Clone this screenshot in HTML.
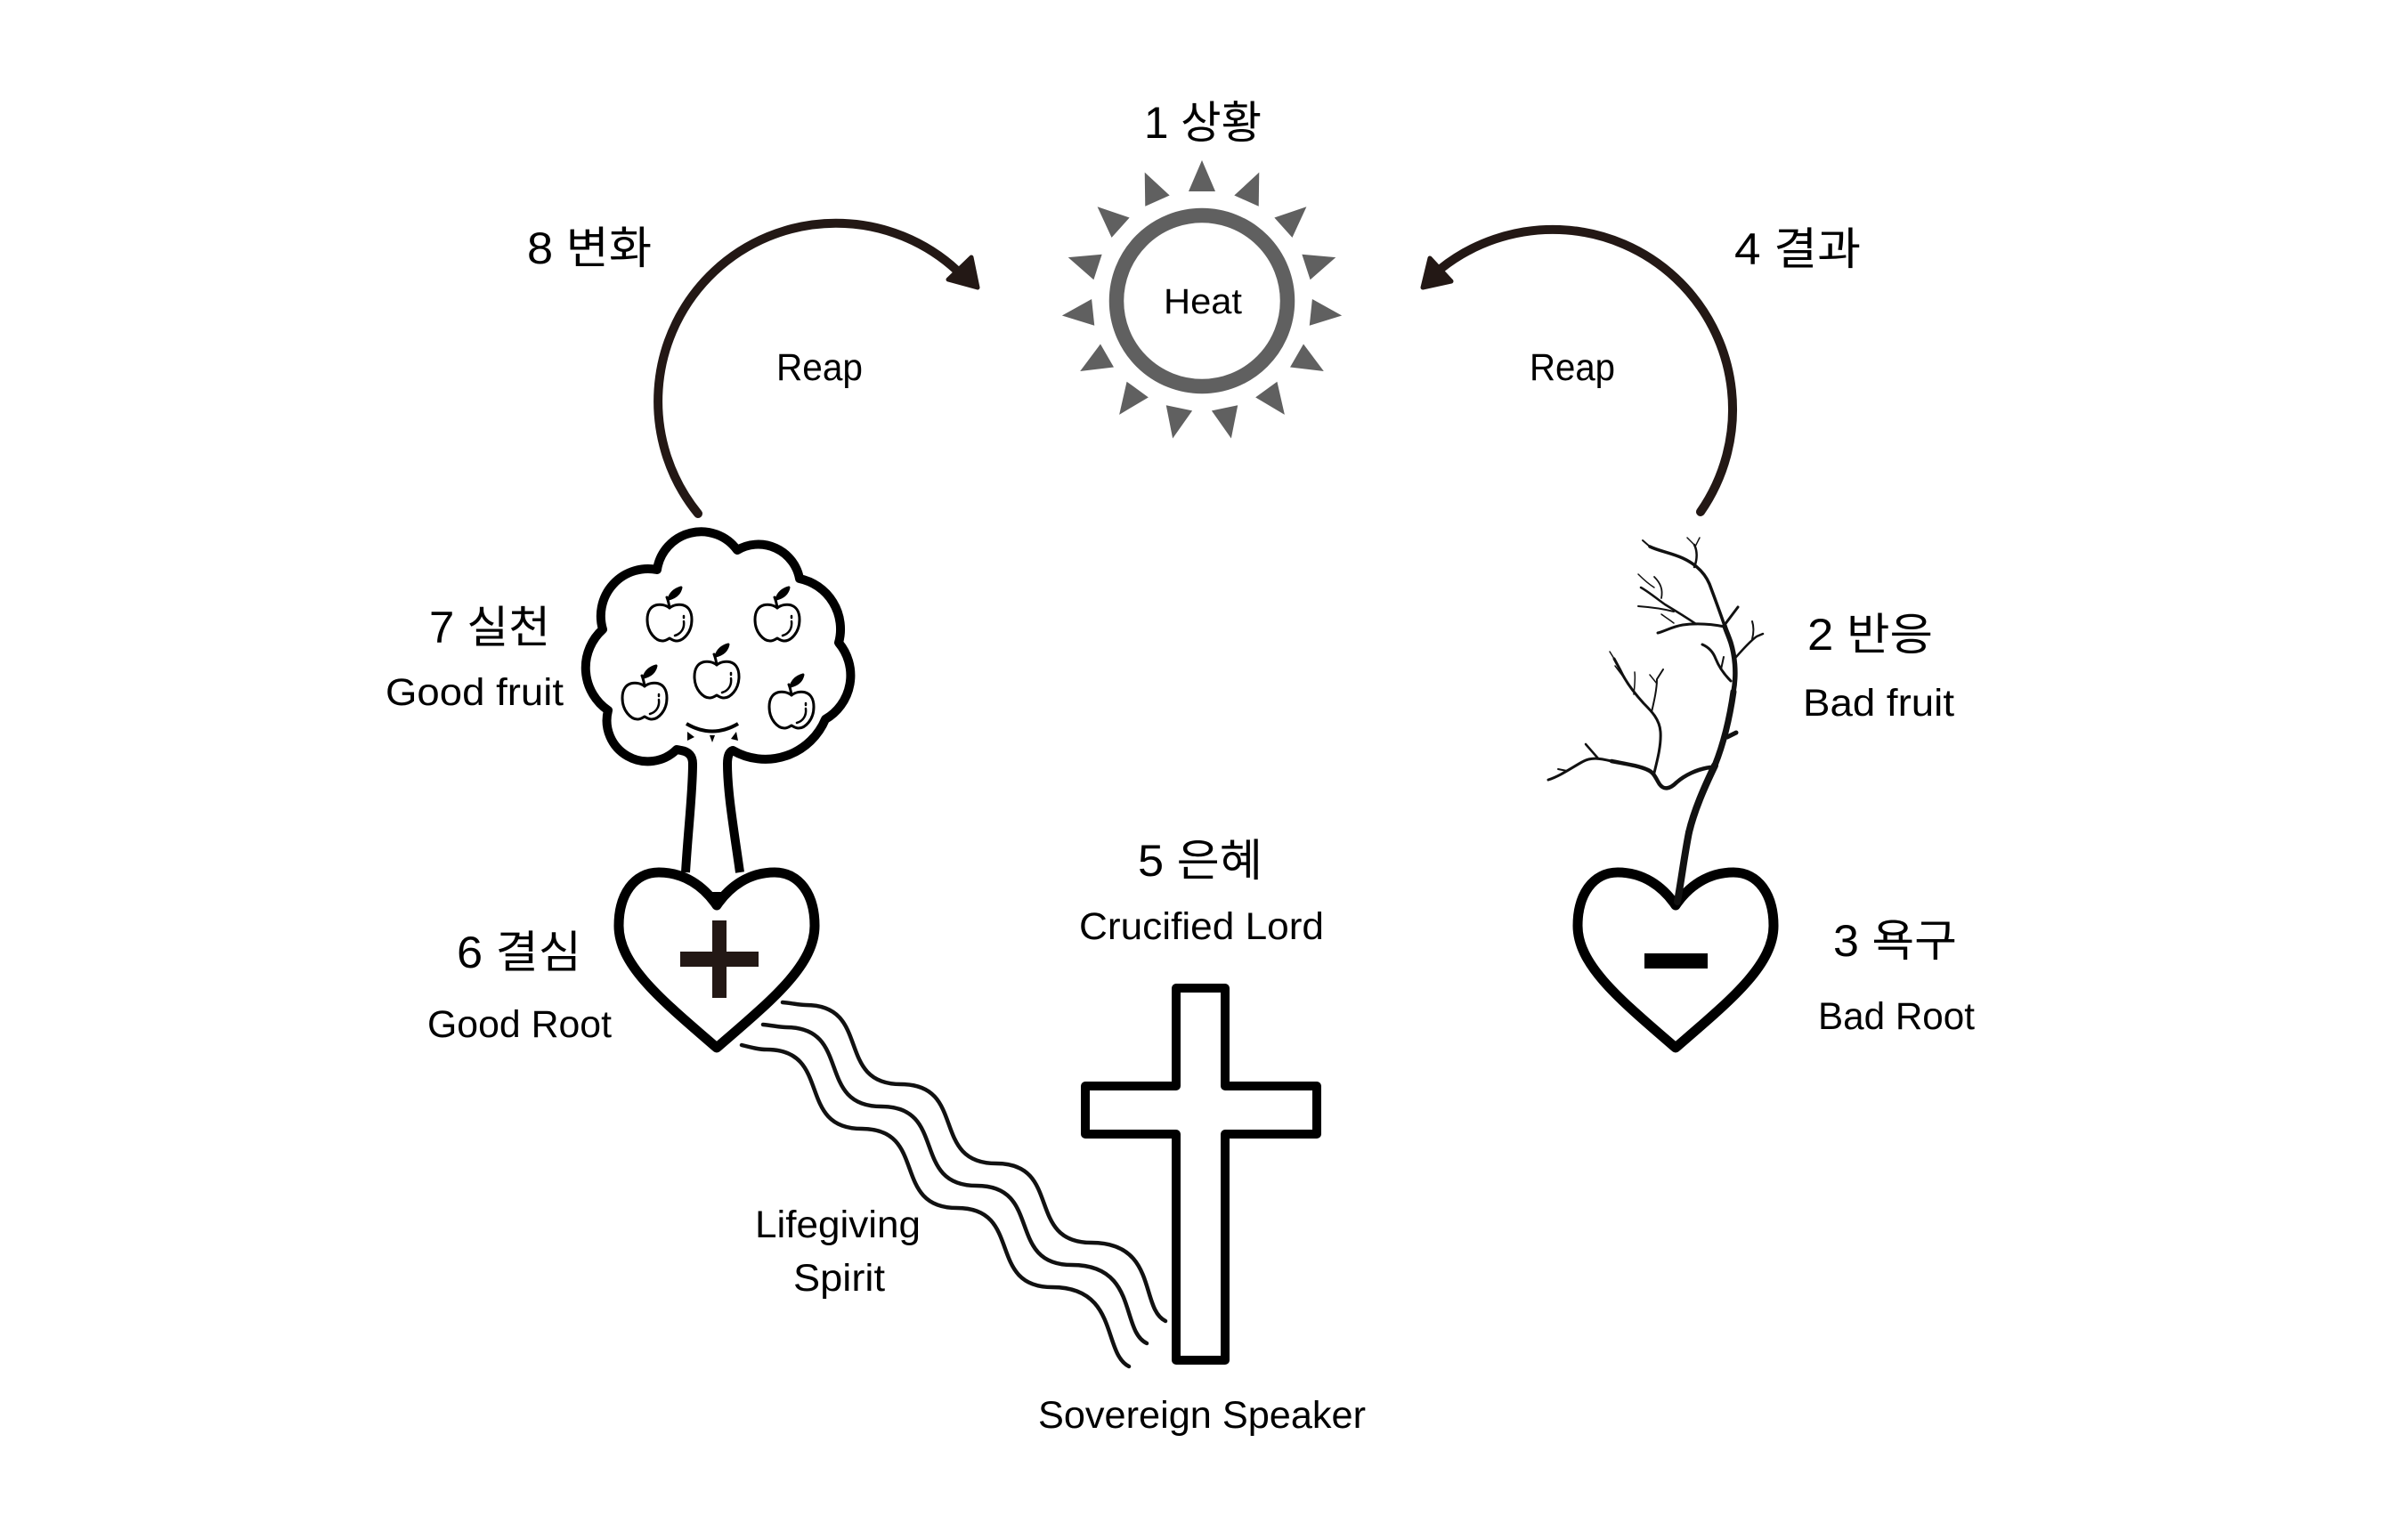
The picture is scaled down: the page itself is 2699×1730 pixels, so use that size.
<!DOCTYPE html>
<html>
<head>
<meta charset="utf-8">
<style>
html,body{margin:0;padding:0;background:#fff;}
svg{display:block;}
.ko{font-family:"Liberation Sans","Noto Sans CJK KR",sans-serif;font-size:50px;fill:#000;}
.en{font-family:"Liberation Sans","Noto Sans CJK KR",sans-serif;font-size:43px;fill:#000;}
</style>
</head>
<body>
<svg width="2699" height="1730" viewBox="0 0 2699 1730" xmlns="http://www.w3.org/2000/svg">
<rect width="2699" height="1730" fill="#fff"/>

<!-- SUN -->
<g fill="#606060">
  <polygon points="1350,180 1335,215 1365,215"/>
  <polygon points="1350,180 1335,215 1365,215" transform="rotate(24 1350 338)"/>
  <polygon points="1350,180 1335,215 1365,215" transform="rotate(48 1350 338)"/>
  <polygon points="1350,180 1335,215 1365,215" transform="rotate(72 1350 338)"/>
  <polygon points="1350,180 1335,215 1365,215" transform="rotate(96 1350 338)"/>
  <polygon points="1350,180 1335,215 1365,215" transform="rotate(120 1350 338)"/>
  <polygon points="1350,180 1335,215 1365,215" transform="rotate(144 1350 338)"/>
  <polygon points="1350,180 1335,215 1365,215" transform="rotate(168 1350 338)"/>
  <polygon points="1350,180 1335,215 1365,215" transform="rotate(192 1350 338)"/>
  <polygon points="1350,180 1335,215 1365,215" transform="rotate(216 1350 338)"/>
  <polygon points="1350,180 1335,215 1365,215" transform="rotate(240 1350 338)"/>
  <polygon points="1350,180 1335,215 1365,215" transform="rotate(264 1350 338)"/>
  <polygon points="1350,180 1335,215 1365,215" transform="rotate(288 1350 338)"/>
  <polygon points="1350,180 1335,215 1365,215" transform="rotate(312 1350 338)"/>
  <polygon points="1350,180 1335,215 1365,215" transform="rotate(336 1350 338)"/>
</g>
<circle cx="1350" cy="338" r="96" fill="none" stroke="#606060" stroke-width="16.5"/>
<text class="en" x="1307" y="352" font-size="40" style="font-size:40px" textLength="88" lengthAdjust="spacingAndGlyphs">Heat</text>

<!-- ARCS -->
<g fill="none" stroke="#231815" stroke-width="10" stroke-linecap="round">
  <path d="M784,577 A200,200 0 0 1 1075,304"/>
  <path d="M1910,575 A202,202 0 0 0 1618,302"/>
</g>
<g fill="#231815" stroke="#231815" stroke-width="5" stroke-linejoin="round">
  <polygon points="1091,289 1098,323 1065,314"/>
  <polygon points="1606,290 1598,323 1630,316"/>
</g>

<!-- LEFT TREE -->
<path d="M770,980 C773,930 778,890 778,858 Q778,845 765,843 L760,842
 A46,46 0 0 1 683,798
 A58,58 0 0 1 677,707
 A53,53 0 0 1 738,640
 A50,50 0 0 1 828,618
 A47,47 0 0 1 898,650
 A58,58 0 0 1 942,722
 A57,57 0 0 1 927,808
 A73,73 0 0 1 823,843
 Q817,845 817,858 C817,890 824,930 831,980"
 fill="#fff" stroke="#000" stroke-width="10" stroke-linejoin="round"/>
<path d="M771,813 Q800,830 829,813" fill="none" stroke="#000" stroke-width="4"/>
<g fill="#000">
  <polygon points="772,822 780,828 772,832"/>
  <polygon points="797,826 803,826 800,834"/>
  <polygon points="827,822 821,830 829,832"/>
</g>

<!-- apples -->
<g fill="none" stroke="#000" stroke-width="3" stroke-linecap="round" stroke-linejoin="round">
  <g transform="translate(752,698)">
    <path d="M0,-15 C-7,-21 -25,-22 -25,-2 C-25,13 -15,22 -8,22 C-4,22 -2,20 0,19 C2,20 4,22 8,22 C15,22 25,13 25,-2 C25,-22 7,-21 0,-15 Z"/>
    <path d="M0,-15 Q-1,-22 -3,-27"/>
    <path d="M-1,-25 Q2,-35 13,-38 Q11,-28 -1,-25 Z" fill="#000"/>
    <path d="M16,0 C17,8 13,14 6,16" stroke-width="2.5"/><path d="M16,-6 L16,-4" stroke-width="2.5"/>
  </g>
  <g transform="translate(873,698)">
    <path d="M0,-15 C-7,-21 -25,-22 -25,-2 C-25,13 -15,22 -8,22 C-4,22 -2,20 0,19 C2,20 4,22 8,22 C15,22 25,13 25,-2 C25,-22 7,-21 0,-15 Z"/>
    <path d="M0,-15 Q-1,-22 -3,-27"/>
    <path d="M-1,-25 Q2,-35 13,-38 Q11,-28 -1,-25 Z" fill="#000"/>
    <path d="M16,0 C17,8 13,14 6,16" stroke-width="2.5"/><path d="M16,-6 L16,-4" stroke-width="2.5"/>
  </g>
  <g transform="translate(805,762)">
    <path d="M0,-15 C-7,-21 -25,-22 -25,-2 C-25,13 -15,22 -8,22 C-4,22 -2,20 0,19 C2,20 4,22 8,22 C15,22 25,13 25,-2 C25,-22 7,-21 0,-15 Z"/>
    <path d="M0,-15 Q-1,-22 -3,-27"/>
    <path d="M-1,-25 Q2,-35 13,-38 Q11,-28 -1,-25 Z" fill="#000"/>
    <path d="M16,0 C17,8 13,14 6,16" stroke-width="2.5"/><path d="M16,-6 L16,-4" stroke-width="2.5"/>
  </g>
  <g transform="translate(724,786)">
    <path d="M0,-15 C-7,-21 -25,-22 -25,-2 C-25,13 -15,22 -8,22 C-4,22 -2,20 0,19 C2,20 4,22 8,22 C15,22 25,13 25,-2 C25,-22 7,-21 0,-15 Z"/>
    <path d="M0,-15 Q-1,-22 -3,-27"/>
    <path d="M-1,-25 Q2,-35 13,-38 Q11,-28 -1,-25 Z" fill="#000"/>
    <path d="M16,0 C17,8 13,14 6,16" stroke-width="2.5"/><path d="M16,-6 L16,-4" stroke-width="2.5"/>
  </g>
  <g transform="translate(889,796)">
    <path d="M0,-15 C-7,-21 -25,-22 -25,-2 C-25,13 -15,22 -8,22 C-4,22 -2,20 0,19 C2,20 4,22 8,22 C15,22 25,13 25,-2 C25,-22 7,-21 0,-15 Z"/>
    <path d="M0,-15 Q-1,-22 -3,-27"/>
    <path d="M-1,-25 Q2,-35 13,-38 Q11,-28 -1,-25 Z" fill="#000"/>
    <path d="M16,0 C17,8 13,14 6,16" stroke-width="2.5"/><path d="M16,-6 L16,-4" stroke-width="2.5"/>
  </g>
</g>

<!-- LEFT HEART -->
<path d="M805,1017 C790,995 768,980 740,980 C712,980 695,1005 695,1040 C695,1085 745,1125 805,1177 C865,1125 915,1085 915,1040 C915,1005 898,980 870,980 C842,980 820,995 805,1017 Z"
 fill="#fff" stroke="#000" stroke-width="11" stroke-linejoin="round"/>
<polygon points="798,1002 812,1002 805,1012" fill="#000"/>
<g fill="#231815">
  <rect x="800" y="1034" width="16" height="87"/>
  <rect x="764" y="1069" width="88" height="17"/>
</g>

<!-- RIGHT HEART -->
<path d="M1882,1017 C1867,995 1845,980 1817,980 C1789,980 1772,1005 1772,1040 C1772,1085 1822,1125 1882,1177 C1942,1125 1992,1085 1992,1040 C1992,1005 1975,980 1947,980 C1919,980 1897,995 1882,1017 Z"
 fill="#fff" stroke="#000" stroke-width="11" stroke-linejoin="round"/>
<rect x="1847" y="1071" width="71" height="17" fill="#000"/>

<!-- DEAD TREE -->
<g fill="none" stroke="#111" stroke-linecap="round" stroke-linejoin="round">
  <path d="M1884,1013 C1889,985 1892,960 1897,935" stroke-width="8"/>
  <path d="M1897,935 C1903,910 1914,885 1926,860" stroke-width="8"/>
  <path d="M1926,860 C1936,835 1943,805 1947,777" stroke-width="7"/>
  <path d="M1947,777 C1951,755 1948,735 1944,722 C1941,713 1938,707 1937,703" stroke-width="5.5"/>
  <path d="M1940,828 L1950,823" stroke-width="5"/>
  <path d="M1937,703 C1932,688 1926,672 1920,656 C1914,642 1903,633 1890,627 C1877,621 1863,619 1853,614" stroke-width="3.5"/>
  <path d="M1853,614 L1845,607" stroke-width="2"/>
  <path d="M1903,637 C1907,627 1906,618 1903,612" stroke-width="2.5"/>
  <path d="M1903,612 L1895,604" stroke-width="1.5"/>
  <path d="M1904,614 L1909,604" stroke-width="1.5"/>
  <path d="M1937,702 L1952,682" stroke-width="3"/>
  <path d="M1950,738 C1958,729 1966,720 1973,715 L1980,712" stroke-width="2.5"/>
  <path d="M1968,718 C1970,710 1970,704 1968,698" stroke-width="2"/>
  <path d="M1937,704 C1922,701 1905,700 1890,702 C1878,704 1870,709 1862,711" stroke-width="3"/>
  <path d="M1905,701 C1893,693 1880,685 1870,679 C1860,672 1852,665 1843,660" stroke-width="2.5"/>
  <path d="M1880,687 C1868,684 1854,682 1840,681" stroke-width="2"/>
  <path d="M1866,672 C1868,662 1865,655 1858,648" stroke-width="1.8"/>
  <path d="M1858,660 C1850,655 1845,650 1840,645" stroke-width="1.5"/>
  <path d="M1880,700 C1875,696 1870,693 1866,690" stroke-width="1.5"/>
  <path d="M1944,765 C1937,758 1931,750 1927,740 C1924,732 1919,727 1912,724" stroke-width="3"/>
  <path d="M1933,752 L1936,738" stroke-width="2"/>
  <path d="M1921,862 C1906,864 1892,871 1883,879 C1876,886 1869,888 1864,881 C1860,875 1858,868 1851,865 C1840,860 1825,858 1810,855" stroke-width="4.5"/>
  <path d="M1810,855 C1797,852 1787,850 1777,856 C1766,862 1752,872 1739,876" stroke-width="3"/>
  <path d="M1795,852 L1781,836" stroke-width="2.5"/>
  <path d="M1760,866 L1750,864" stroke-width="2"/>
  <path d="M1858,868 C1862,852 1866,836 1865,822 C1864,808 1855,799 1846,790 C1836,779 1826,766 1820,753 L1813,740" stroke-width="3"/>
  <path d="M1855,800 C1858,787 1861,774 1861,763 L1868,752" stroke-width="2"/>
  <path d="M1861,768 L1853,758" stroke-width="1.5"/>
  <path d="M1835,780 C1836,770 1837,762 1836,755" stroke-width="1.5"/>
  <path d="M1823,760 L1814,748" stroke-width="1.5"/>
  <path d="M1813,740 L1808,732" stroke-width="1.5"/>
</g>

<!-- WAVY LINES -->
<g fill="none" stroke="#111" stroke-width="4.5" stroke-linecap="round">
  <path d="M879,1126 C890,1127 898,1129 905,1129
   C980,1129 937,1218 1012,1218
   C1087,1218 1044,1307 1119,1307
   C1194,1307 1151,1396 1226,1396
   C1301,1396 1280,1470 1309,1484"/>
  <path d="M857,1151 C868,1152 876,1154 883,1154
   C958,1154 915,1243 990,1243
   C1065,1243 1022,1332 1097,1332
   C1172,1332 1129,1421 1204,1421
   C1279,1421 1258,1495 1288,1509"/>
  <path d="M833,1174 C845,1177 853,1179 861,1179
   C936,1179 893,1268 968,1268
   C1043,1268 1000,1357 1075,1357
   C1150,1357 1107,1446 1182,1446
   C1257,1446 1238,1520 1268,1535"/>
</g>

<!-- CROSS -->
<path d="M1321,1110 H1376 V1220 H1479 V1274 H1376 V1528 H1321 V1274 H1219 V1220 H1321 Z"
 fill="#fff" stroke="#000" stroke-width="10" stroke-linejoin="round"/>

<!-- LABELS -->
<text class="ko" x="1285" y="155" textLength="132" lengthAdjust="spacingAndGlyphs">1 상황</text>
<text class="ko" x="592" y="296" textLength="140" lengthAdjust="spacingAndGlyphs">8 변화</text>
<text class="ko" x="1948" y="297" textLength="142" lengthAdjust="spacingAndGlyphs">4 결과</text>
<text class="en" x="872" y="427" textLength="97" lengthAdjust="spacingAndGlyphs">Reap</text>
<text class="en" x="1718" y="427" textLength="96" lengthAdjust="spacingAndGlyphs">Reap</text>

<text class="ko" x="482" y="722" textLength="136" lengthAdjust="spacingAndGlyphs">7 실천</text>
<text class="en" x="433" y="792" textLength="200" lengthAdjust="spacingAndGlyphs">Good fruit</text>
<text class="ko" x="513" y="1087" textLength="140" lengthAdjust="spacingAndGlyphs">6 결심</text>
<text class="en" x="480" y="1165" textLength="207" lengthAdjust="spacingAndGlyphs">Good Root</text>

<text class="ko" x="1278" y="984" textLength="140" lengthAdjust="spacingAndGlyphs">5 은혜</text>
<text class="en" x="1212" y="1055" textLength="275" lengthAdjust="spacingAndGlyphs">Crucified Lord</text>

<text class="en" x="848" y="1390" textLength="186" lengthAdjust="spacingAndGlyphs">Lifegiving</text>
<text class="en" x="891" y="1450" textLength="103" lengthAdjust="spacingAndGlyphs">Spirit</text>
<text class="en" x="1166" y="1604" textLength="368" lengthAdjust="spacingAndGlyphs">Sovereign Speaker</text>

<text class="ko" x="2030" y="730" textLength="141" lengthAdjust="spacingAndGlyphs">2 반응</text>
<text class="en" x="2025" y="804" textLength="170" lengthAdjust="spacingAndGlyphs">Bad fruit</text>
<text class="ko" x="2059" y="1074" textLength="139" lengthAdjust="spacingAndGlyphs">3 욕구</text>
<text class="en" x="2042" y="1156" textLength="176" lengthAdjust="spacingAndGlyphs">Bad Root</text>
</svg>
</body>
</html>
